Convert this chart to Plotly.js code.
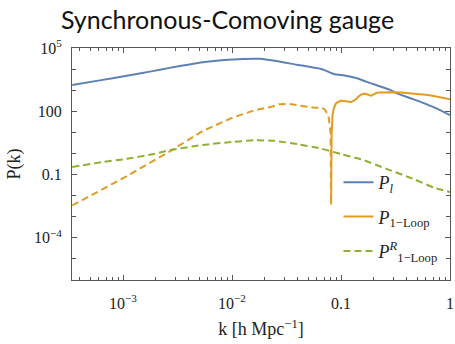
<!DOCTYPE html>
<html>
<head>
<meta charset="utf-8">
<script src="https://cdn.plot.ly/plotly-3.0.1.min.js"></script>
<style>
  html, body { margin: 0; padding: 0; background: #fff; }
  #plot { width: 455px; height: 344px; }
</style>
</head>
<body>
<div id="plot"></div>
<script>
// Linear matter power spectrum P_l(k)
const kLin = [0.000342, 0.000631, 0.00102, 0.00187, 0.00267, 0.0054, 0.0102, 0.0161, 0.0179,
              0.0245, 0.0402, 0.067, 0.0871, 0.1016, 0.1377, 0.170, 0.210, 0.2786, 0.3097,
              0.465, 0.733, 1.0];
const pLin = [1770, 3000, 4540, 8000, 11400, 21100, 28300, 30800, 30600,
              25000, 15800, 9800, 5700, 5250, 3800, 2550, 1750, 1057, 794,
              365, 145, 65];

// One-loop correction: negative branch (|P|, dashed) up to the zero crossing
const kLoopNeg = [0.000342, 0.00102, 0.00267, 0.0054, 0.0102, 0.0161, 0.0233, 0.0273, 0.033,
                  0.040, 0.048, 0.058, 0.066, 0.0706, 0.0767, 0.0802, 0.0810];
const pLoopNeg = [0.00341, 0.0705, 1.22, 11.7, 50.7, 112, 166, 214, 224,
                  195, 158, 145, 148, 126, 62, 9.8, 0.0038];

// One-loop correction: positive branch (solid) past the zero crossing
const kLoopPos = [0.0812, 0.0820, 0.0836, 0.0859, 0.0904, 0.0955, 0.1002, 0.106, 0.1117, 0.1175,
                  0.124, 0.132, 0.138, 0.145, 0.153, 0.162, 0.170, 0.180, 0.189, 0.200,
                  0.210, 0.224, 0.242, 0.299, 0.355, 0.396, 0.457, 0.525, 0.631, 0.746,
                  0.871, 1.0];
const pLoopPos = [0.0038, 7.9, 63, 141, 245, 295, 324, 309, 295, 282,
                  275, 331, 380, 501, 617, 676, 661, 589, 550, 631,
                  741, 776, 794, 794, 776, 741, 692, 661, 589, 501,
                  437, 372];

// Renormalised one-loop term P^R_{1-Loop} (dashed)
const kRen = [0.000342, 0.000653, 0.00102, 0.00187, 0.00267, 0.0054, 0.0102, 0.0161, 0.0245,
              0.0402, 0.0658, 0.1016, 0.153, 0.268, 0.472, 0.721, 1.0];
const pRen = [0.228, 0.394, 0.530, 0.916, 1.42, 2.54, 3.53, 4.2, 3.95,
              2.74, 1.69, 0.916, 0.530, 0.177, 0.059, 0.0235, 0.015];

// Axis ticks
const xTickVals = [0.001, 0.01, 0.1, 1];
const xTickText = ['10<sup>−3</sup>', '10<sup>−2</sup>', '0.1', '1'];
const yTickVals = [1e5, 100, 0.1, 1e-4];
const yTickText = ['10<sup>5</sup>', '100', '0.1', '10<sup>−4</sup>'];

// Legend labels
const nameLin = '<i>P</i><sub><i>l</i></sub>';
const nameLoop = '<i>P</i><sub>1−Loop</sub>';
const nameRen = '<i>P</i><sup><i>R</i></sup><sub>1−Loop</sub>';

const BLUE = '#5E81B5', ORANGE = '#E19C24', GREEN = '#8FB032';
const DASH = '7px,4px';

// minor x ticks: 2..9 in every decade inside the range
const xMinor = [];
[1e-4, 1e-3, 1e-2, 1e-1].forEach(d => { for (let m = 2; m <= 9; m++) xMinor.push(m * d); });
const yMinor = [1e4, 1e3, 10, 1, 0.01, 0.001, 1e-5, 1e-6];

const traces = [
  { x: kLin, y: pLin, type: 'scatter', mode: 'lines', name: nameLin,
    line: { color: BLUE, width: 2, shape: 'spline', smoothing: 0.6 }, legendgroup: 'a' },
  { x: kLoopNeg, y: pLoopNeg, type: 'scatter', mode: 'lines', name: nameLoop,
    line: { color: ORANGE, width: 2, dash: DASH }, showlegend: false, legendgroup: 'b' },
  { x: kLoopPos, y: pLoopPos, type: 'scatter', mode: 'lines', name: nameLoop,
    line: { color: ORANGE, width: 2 }, legendgroup: 'b' },
  { x: kRen, y: pRen, type: 'scatter', mode: 'lines', name: nameRen,
    line: { color: GREEN, width: 2, dash: DASH, shape: 'spline', smoothing: 0.6 }, legendgroup: 'c' }
];

const axisCommon = {
  type: 'log',
  showline: true, linecolor: '#555', linewidth: 1, mirror: 'allticks',
  ticks: 'inside', ticklen: 5, tickwidth: 1, tickcolor: '#555',
  showgrid: false, zeroline: false,
  tickfont: { family: 'Liberation Serif, serif', size: 16, color: '#222' },
  tickmode: 'array'
};

const layout = {
  width: 455, height: 344,
  margin: { l: 72, r: 5, t: 48, b: 64 },
  paper_bgcolor: '#fff', plot_bgcolor: '#fff',
  title: {
    text: 'Synchronous-Comoving gauge',
    font: { family: 'Lato, sans-serif', size: 25, color: '#111' },
    x: 0.5, xref: 'container', xanchor: 'center',
    y: 0.94, yref: 'container', yanchor: 'middle'
  },
  xaxis: Object.assign({}, axisCommon, {
    range: [-3.468, 0],
    tickvals: xTickVals, ticktext: xTickText,
    ticklabelstandoff: 9,
    minor: { tickvals: xMinor, ticks: 'inside', ticklen: 3, tickcolor: '#555', tickwidth: 1 },
    title: { text: 'k [h Mpc<sup>−1</sup>]', standoff: 11,
             font: { family: 'Liberation Serif, serif', size: 18, color: '#222' } }
  }),
  yaxis: Object.assign({}, axisCommon, {
    range: [-6, 5],
    tickvals: yTickVals, ticktext: yTickText,
    ticklabelstandoff: 6,
    minor: { tickvals: yMinor, ticks: 'inside', ticklen: 4, tickcolor: '#555', tickwidth: 1 },
    title: { text: 'P(k)', standoff: 8,
             font: { family: 'Liberation Serif, serif', size: 18, color: '#222' } }
  }),
  showlegend: true,
  legend: {
    x: 0.705, y: 0.5, xanchor: 'left', yanchor: 'top',
    bgcolor: 'rgba(0,0,0,0)', borderwidth: 0,
    font: { family: 'Liberation Serif, serif', size: 18, color: '#222' },
    tracegroupgap: 8
  }
};

Plotly.newPlot('plot', traces, layout, { staticPlot: true, displayModeBar: false });
</script>
</body>
</html>
